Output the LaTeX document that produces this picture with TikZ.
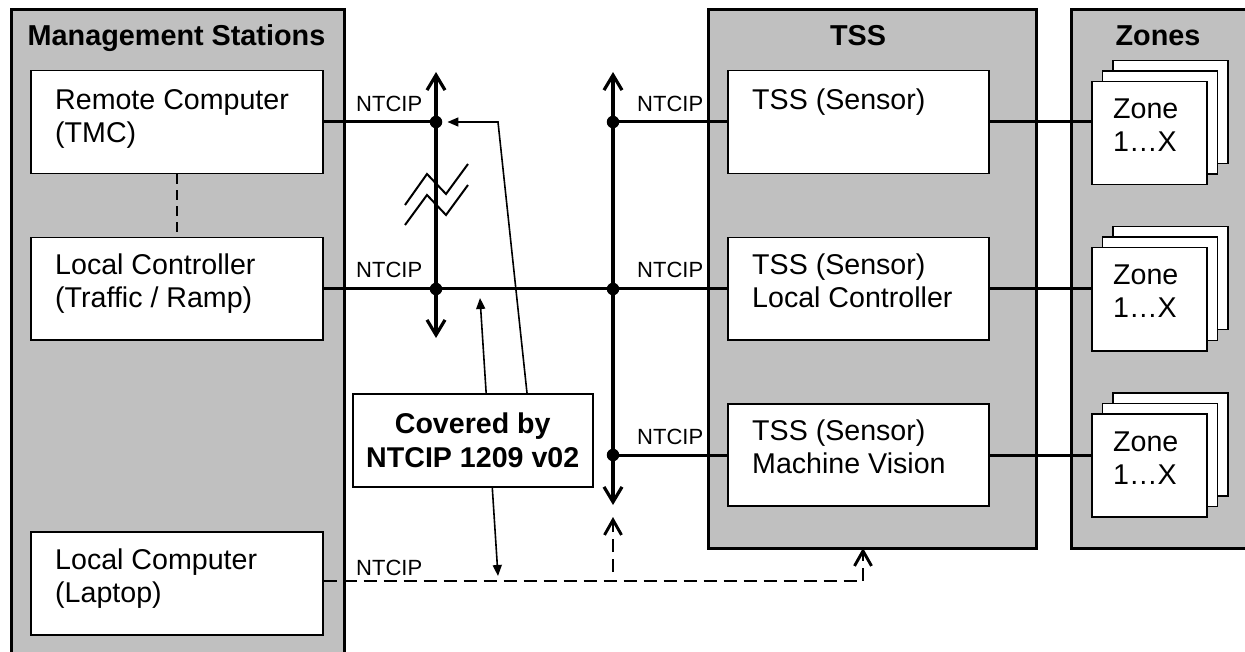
\documentclass[tikz,border=0pt]{standalone}
\usepackage{fontspec}
\setmainfont{Liberation Sans}
\usetikzlibrary{arrows.meta}
\definecolor{panelgray}{RGB}{192,192,192}
\begin{document}
\begin{tikzpicture}[x=1pt,y=-1pt,
 panel/.style={draw=black, line width=3pt, fill=panelgray, inner sep=0pt, anchor=north west},
 wbox/.style={draw=black, line width=1.5pt, fill=white, inner sep=0pt, anchor=north west},
 txt/.style={font=\fontsize{28.6}{33}\selectfont, inner sep=0pt, anchor=base west, align=left},
 ttl/.style={font=\fontsize{28.8}{33}\selectfont\bfseries, inner sep=0pt, anchor=base},
 lbl/.style={font=\fontsize{22}{26}\selectfont, inner sep=0pt, anchor=base west},
 bus/.style={line width=3.2pt, {Straight Barb[length=15pt,width=18pt]}-{Straight Barb[length=15pt,width=18pt]}},
 conn/.style={line width=3pt},
 jdot/.style={circle, fill=black, inner sep=0pt, minimum size=12.5pt},
 call/.style={line width=1.6pt},
 dsh/.style={line width=2.9pt, dash pattern=on 13pt off 7pt},
 barb/.style={-{Straight Barb[length=15pt,width=17pt]}}
]
\useasboundingbox (0,0) rectangle (1245,652);
\clip (0,0) rectangle (1245,652);

% panels
\node[panel, minimum width=333pt, minimum height=700pt] (ms) at (10,8) {};
\node[panel, minimum width=328pt, minimum height=539pt] (tss) at (707,8) {};
\node[panel, minimum width=200pt, minimum height=539pt] (zn) at (1070,8) {};
\node[ttl] (mst) at (176.5,46) {Management Stations};
\node[ttl] (tsst) at (858,46) {TSS};
\node[ttl] (znt) at (1158,46) {Zones};

% management boxes
\node[wbox, minimum width=292pt, minimum height=103pt] (rc) at (30,70) {};
\node[wbox, minimum width=292pt, minimum height=102pt] (lc) at (30,237) {};
\node[wbox, minimum width=292pt, minimum height=103pt] (lap) at (30,531) {};
\node[txt] (rct) at (55,143) {Remote Computer\\(TMC)};
\node[txt] (lct) at (55,308) {Local Controller\\(Traffic / Ramp)};
\node[txt] (lapt) at (55,602) {Local Computer\\(Laptop)};
\draw[line width=2pt, dash pattern=on 10pt off 6pt] (rc.south) -- (lc.north);

% TSS boxes
\node[wbox, minimum width=261pt, minimum height=103pt] (t1) at (727,70) {};
\node[wbox, minimum width=261pt, minimum height=102pt] (t2) at (727,237) {};
\node[wbox, minimum width=261pt, minimum height=102pt] (t3) at (727,403) {};
\node[txt] (t1t) at (752,110) {TSS (Sensor)};
\node[txt] (t2t) at (752,308) {TSS (Sensor)\\Local Controller};
\node[txt] (t3t) at (752,473) {TSS (Sensor)\\Machine Vision};

% zone stacks
\foreach \yy/\nm in {81/z1,247/z2,413/z3}{
  \node[wbox, minimum width=115pt, minimum height=103pt] (\nm c) at (1112,\yy-21) {};
  \node[wbox, minimum width=115pt, minimum height=103pt] (\nm b) at (1101.5,\yy-10.5) {};
  \node[wbox, minimum width=115pt, minimum height=103pt] (\nm) at (1091,\yy) {};
  \node[txt] (\nm t) at (1113,\yy+71) {Zone\\1…X};
}

% buses
\coordinate (b1t) at (436,72);
\coordinate (b1b) at (436,338);
\coordinate (b2t) at (613,72);
\coordinate (b2b) at (613,505);
\draw[bus] (b1b) -- (b1t);
\draw[bus] (b2b) -- (b2t);
\node[jdot] (d1a) at (436,122) {};
\node[jdot] (d1b) at (436,289) {};
\node[jdot] (d2a) at (613,122) {};
\node[jdot] (d2b) at (613,289) {};
\node[jdot] (d2c) at (613,455) {};

% break symbol
\draw[line width=2pt] (405,205) -- (427,174) -- (446,194) -- (468,164);
\draw[line width=2pt] (405,225) -- (427,195) -- (446,215) -- (468,185);

% connections
\draw[conn] (rc.east |- d1a) -- (d1a);
\draw[conn] (lc.east |- d1b) -- (d1b) -- (d2b) -- (t2.west |- d2b);
\draw[conn] (d2a) -- (t1.west |- d2a);
\draw[conn] (d2c) -- (t3.west |- d2c);
\draw[conn] (t1.east |- d2a) -- (z1.west |- d2a);
\draw[conn] (t2.east |- d2b) -- (z2.west |- d2b);
\draw[conn] (t3.east |- d2c) -- (z3.west |- d2c);

% dashed laptop connection
\coordinate (tin) at (863,548);
\coordinate (dub) at (613,572);
\coordinate (dut) at (613,517);
\draw[dsh, barb] (lap.east |- 0,581) -| (tin);
\draw[dsh, barb] (dub) -- (dut);

% labels
\node[lbl] (n1) at (356,112) {NTCIP};
\node[lbl] (n2) at (356,278) {NTCIP};
\node[lbl] (n3) at (356,575) {NTCIP};
\node[lbl] (n4) at (637,112) {NTCIP};
\node[lbl] (n5) at (637,278) {NTCIP};
\node[lbl] (n6) at (637,444) {NTCIP};

% callouts
\coordinate (c1s) at (527,393);
\coordinate (c1m) at (498,122);
\coordinate (c2a) at (480,298);
\coordinate (c2b) at (498,576);
\draw[call, -{Triangle[length=11pt,width=9pt]}] (c1s) -- (c1m) -- (d1a.east) [shorten >=5pt];
\draw[call, {Triangle[length=11pt,width=9pt]}-{Triangle[length=11pt,width=9pt]}] (c2b) -- (c2a);
\node[wbox, minimum width=240pt, minimum height=93pt] (cov) at (352,393) {};
\node[font=\fontsize{28.6}{34}\selectfont\bfseries, align=center, inner sep=0pt] (covt) at (cov.center) {Covered by\\NTCIP 1209 v02};
\end{tikzpicture}
\end{document}
